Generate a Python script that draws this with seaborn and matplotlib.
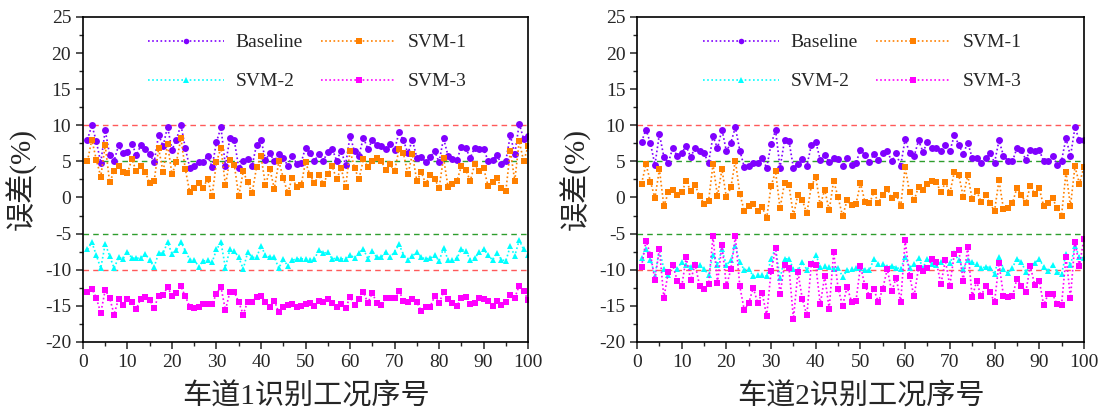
import matplotlib
matplotlib.use("Agg")
import matplotlib.pyplot as plt
import seaborn as sns
import pandas as pd
import numpy as np
from matplotlib.ticker import MultipleLocator

sns.set_style("ticks")
plt.rcParams["font.family"] = ["Liberation Serif", "Noto Sans CJK SC"]
plt.rcParams["axes.unicode_minus"] = False

# lane 1 values (x = 1..100)
base_1 = [8.0, 10.0, 7.8, 4.8, 9.3, 5.9, 5.1, 7.2, 6.1, 6.3, 7.4, 5.9, 7.2, 6.7, 6.0, 4.9, 8.7, 7.1, 9.8, 6.6,
          8.0, 10.1, 6.8, 4.1, 4.4, 4.9, 4.9, 5.8, 4.2, 7.7, 9.7, 4.4, 8.2, 7.9, 4.1, 5.1, 5.3, 4.4, 7.3, 8.0,
          5.2, 6.1, 5.0, 6.0, 5.5, 4.4, 5.8, 4.7, 4.8, 6.9, 6.1,
          5.1, 6.0, 5.1, 6.3, 6.7, 5.1, 6.5, 4.5, 8.5, 6.4, 5.8, 8.3, 6.7, 7.9, 7.3, 7.1, 6.7, 7.4, 6.6, 9.0,
          7.9, 6.1, 8.0, 5.5, 5.6, 4.9, 5.6, 6.4, 4.9, 8.2, 5.8, 5.3, 5.2, 7.0, 6.8, 5.5, 6.9, 6.7, 6.7, 5.1,
          5.2, 5.9, 4.6, 5.1, 8.6, 6.0, 10.2, 8.1, 8.5]
svm1_1 = [5.0, 8.0, 5.2, 2.9, 7.2, 2.1, 3.6, 4.3, 3.5, 3.4, 5.3, 3.6, 4.3, 3.5, 2.0, 2.3, 6.8, 3.5, 7.4, 3.2,
          4.9, 8.2, 3.9, 0.7, 1.3, 2.0, 1.3, 2.6, 0.2, 4.9, 6.9, 1.7, 5.2, 4.5, 0.2, 3.6, 2.1, 0.6, 4.2, 5.7,
          1.7, 3.9, 1.2, 5.0, 2.7, 0.6, 2.7, 1.5, 1.7, 4.9, 3.1,
          2.0, 3.1, 1.9, 3.2, 4.3, 2.5, 4.1, 1.4, 6.5, 4.1, 2.5, 5.3, 4.2, 5.0, 5.4, 5.1, 3.8, 4.6, 3.6, 6.7,
          6.1, 3.2, 6.0, 2.3, 3.5, 1.9, 3.1, 2.6, 1.3, 5.5, 1.5, 1.8, 2.3, 4.3, 3.8, 2.3, 4.6, 3.7, 4.1, 1.6,
          2.2, 2.7, 1.3, 0.9, 6.5, 2.3, 7.8, 5.0, 7.1]
svm2_1 = [-7.2, -6.2, -8.0, -9.8, -6.4, -8.1, -9.8, -8.3, -8.5, -7.5, -8.4, -8.4, -8.4, -7.8, -8.7, -9.6, -7.7,
          -7.7, -6.2, -7.8, -7.3, -6.1, -7.4, -8.6, -8.6, -9.6, -8.8, -8.7, -9.0, -7.2, -6.2, -9.7, -7.2, -7.4,
          -8.3, -9.9, -7.6, -8.3, -8.3, -6.7, -8.0, -8.3, -8.3, -9.8, -8.5, -9.5, -8.7, -8.5, -8.5, -8.5, -8.6,
          -8.5, -7.3, -7.7, -7.6, -8.5, -8.4, -8.5, -8.5, -7.9, -8.4, -7.7, -7.1, -8.5, -7.4, -8.3, -8.3, -7.5,
          -8.3, -7.5, -6.5, -7.9, -8.6, -8.1, -7.6, -8.3, -8.5, -8.4, -8.0, -8.8, -7.0, -8.6, -8.7, -8.4, -7.2,
          -7.4, -8.6, -8.4, -7.6, -7.2, -7.9, -8.7, -7.7, -8.6, -8.8, -6.7, -8.1, -5.9, -7.2, -7.9]
svm3_1 = [-13.1, -12.6, -13.9, -16.0, -12.8, -13.9, -16.2, -14.0, -14.9, -14.1, -14.4, -15.4, -14.0, -13.8,
          -14.2, -15.3, -13.6, -13.5, -12.4, -13.6, -13.2, -12.3, -13.7, -15.1, -15.3, -15.2, -14.8, -14.7,
          -14.8, -13.3, -12.4, -15.6, -13.1, -13.1, -14.5, -16.2, -14.4, -14.4, -13.8, -13.7, -14.4, -15.1,
          -14.3, -15.9, -15.1, -14.9, -14.7, -15.2, -15.0, -14.8, -14.6,
          -15.0, -14.3, -14.4, -14.0, -14.6, -15.2, -14.8, -15.3, -13.8, -14.9, -14.1, -13.1, -14.6, -13.2,
          -14.6, -14.9, -13.9, -13.9, -13.9, -12.9, -14.3, -14.5, -14.0, -14.5, -15.7, -15.1, -15.1, -13.7,
          -14.6, -13.1, -14.1, -14.6, -15.0, -13.9, -13.8, -14.8, -14.6, -13.9, -14.1, -14.3, -15.0, -14.3,
          -14.9, -14.4, -13.5, -13.9, -12.2, -13.0, -14.2]

# lane 2
base_2 = [7.7, 9.4, 7.5, 4.5, 8.8, 5.6, 4.8, 6.9, 5.7, 6.2, 7.1, 5.6, 6.9, 6.5, 6.1, 4.8, 8.5, 6.8, 9.4, 6.4,
          7.6, 9.7, 6.5, 4.2, 4.4, 4.8, 4.8, 5.5, 4.1, 7.4, 9.3, 4.1, 7.9, 7.8, 4.1, 4.7, 5.3, 4.4, 7.2, 7.7,
          5.2, 5.9, 4.9, 5.5, 5.3, 4.3, 5.4, 4.5, 4.8, 6.6, 5.9,
          4.9, 6.0, 5.2, 6.1, 6.4, 5.0, 6.1, 4.4, 8.1, 6.1, 5.7, 7.9, 6.3, 7.7, 6.9, 6.8, 6.4, 7.3, 6.4, 8.6,
          7.3, 6.0, 7.6, 5.5, 5.5, 4.8, 5.4, 6.2, 4.8, 7.9, 5.8, 5.1, 5.0, 6.8, 6.6, 5.2, 6.6, 6.5, 6.6, 5.0,
          5.0, 5.8, 4.5, 5.1, 8.2, 5.7, 9.7, 7.9, 7.9]
svm1_2 = [1.9, 4.6, 2.2, -0.1, 3.9, -1.2, 0.7, 1.1, 0.4, 0.7, 2.3, 0.9, 1.7, 0.2, -0.9, -0.5, 4.6, 0.2, 3.9,
          0.0, 1.4, 5.1, 0.5, -1.9, -1.2, -0.9, -1.9, -1.3, -2.9, 1.6, 3.6, -1.5, 2.0, 1.7, -2.5, 0.4, -0.4,
          -2.2, 1.6, 2.8, -1.1, 1.1, -1.8, 2.3, 0.0, -2.6, -0.4, -1.1, -0.9, 2.0, -0.6,
          -0.8, 0.7, -0.7, 0.3, 1.2, -0.1, 0.4, -1.2, 4.2, 0.7, -0.4, 1.5, 1.1, 1.9, 2.3, 2.1, 0.7, 2.1, 0.6,
          3.5, 3.1, 0.1, 3.1, -0.2, 0.9, -0.6, 0.3, -0.8, -1.9, 2.4, -1.6, -1.5, -0.8, 1.3, 0.4, -0.8, 1.6,
          0.5, 1.3, -1.2, -0.7, -0.1, -1.5, -2.5, 3.5, -1.2, 4.3, 1.9, 4.2]
svm2_2 = [-8.4, -7.1, -8.6, -10.8, -7.2, -9.9, -10.7, -9.4, -9.9, -8.9, -9.3, -9.6, -9.2, -9.3, -9.9, -10.7,
          -7.9, -9.3, -7.2, -9.4, -8.6, -6.7, -9.0, -10.0, -9.9, -10.9, -10.7, -10.7, -10.9, -8.5, -7.0, -11.2,
          -8.5, -8.5, -9.9, -10.1, -9.0, -10.0, -9.2, -7.9, -9.6, -9.5, -9.6, -9.9, -9.7, -11.0, -10.1, -9.9,
          -9.8, -9.7, -10.0,
          -10.1, -8.5, -9.2, -9.2, -9.6, -9.5, -9.7, -9.9, -8.2, -9.7, -9.2, -8.4, -9.7, -8.5, -9.2, -9.3, -9.0,
          -8.6, -9.1, -7.7, -8.7, -9.9, -8.7, -9.0, -9.2, -9.8, -9.6, -9.7, -10.6, -8.2, -9.9, -10.5, -9.7,
          -8.5, -8.9, -10.3, -9.5, -9.1, -8.5, -9.6, -10.2, -9.3, -10.3, -10.6, -7.8, -9.4, -6.7, -8.2, -8.4]
svm3_2 = [-9.6, -6.0, -7.9, -11.4, -7.1, -13.9, -10.3, -9.4, -11.5, -12.3, -8.3, -11.4, -9.3, -12.2, -12.7,
          -12.0, -5.4, -11.8, -6.6, -12.3, -9.9, -5.4, -12.3, -15.6, -14.6, -12.5, -14.6, -13.2, -16.4, -10.2,
          -7.0, -13.4, -9.3, -9.7, -16.8, -10.3, -14.1, -16.3, -9.2, -9.4, -14.8, -10.9, -15.4, -7.6, -12.6,
          -15.0, -12.4, -14.4, -14.3, -9.5, -12.2,
          -13.6, -12.7, -14.5, -12.6, -9.9, -13.0, -11.1, -14.5, -5.9, -10.9, -13.7, -9.7, -10.2, -9.7, -8.5,
          -9.0, -12.0, -8.7, -12.2, -7.8, -7.3, -11.5, -6.9, -13.8, -11.6, -13.7, -12.2, -13.1, -14.5, -9.1,
          -13.6, -13.8, -13.7, -11.3, -12.2, -13.1, -9.5, -12.1, -11.5, -14.9, -13.4, -13.4, -14.8, -14.9,
          -8.2, -13.9, -6.1, -9.5, -5.7]

series_names = ["Baseline", "SVM-1", "SVM-2", "SVM-3"]
colors = ["#8000ff", "#ff8000", "#00ffff", "#ff00ff"]
markers = ["o", "s", "^", "s"]
xlabels = ["车道1识别工况序号", "车道2识别工况序号"]

lanes = [[base_1, svm1_1, svm2_1, svm3_1], [base_2, svm1_2, svm2_2, svm3_2]]

fig = plt.figure(figsize=(11.06, 4.12), dpi=100)
ax_pos = [[0.075, 0.170, 0.4025, 0.789], [0.576, 0.170, 0.404, 0.789]]

for k, lane in enumerate(lanes):
    ax = fig.add_axes(ax_pos[k])
    for name, vals, c, m in zip(series_names, lane, colors, markers):
        df = pd.DataFrame({"idx": np.arange(1, len(vals) + 1), "err": vals})
        sns.lineplot(data=df, x="idx", y="err", ax=ax, color=c, marker=m, markersize=5,
                     markeredgewidth=0, linestyle=(0, (1, 1.5)), linewidth=1.2, label=name)
    for yv, col in [(10, "#ff5a5a"), (-10, "#ff5a5a"), (5, "#2e9e2e"), (-5, "#2e9e2e")]:
        ax.axhline(yv, color=col, linestyle=(0, (4, 3)), linewidth=1.0, zorder=1)

    ax.set_xlim(0, 100)
    ax.set_ylim(-20, 25)
    ax.xaxis.set_major_locator(MultipleLocator(10))
    ax.xaxis.set_minor_locator(MultipleLocator(5))
    ax.yaxis.set_major_locator(MultipleLocator(5))
    ax.yaxis.set_minor_locator(MultipleLocator(2.5))
    ax.tick_params(which="major", direction="out", length=5, width=1.1, labelsize=14,
                   top=False, right=False)
    ax.tick_params(which="minor", direction="out", length=3, width=1.0, top=False, right=False)
    for sp in ax.spines.values():
        sp.set_linewidth(1.2)
        sp.set_color("black")
    ax.set_xlabel(xlabels[k], fontsize=21, labelpad=9)
    ax.set_ylabel("误差(%)", fontsize=21, labelpad=6)

    # legend filled row by row: Baseline, SVM-1 / SVM-2, SVM-3
    h, l = ax.get_legend_handles_labels()
    order = [0, 2, 1, 3]
    ax.legend([h[i] for i in order], [l[i] for i in order], ncol=2, frameon=False,
              loc="upper center", bbox_to_anchor=(0.505, 0.99),
              fontsize=14, handlelength=3.9, handletextpad=0.6, columnspacing=0.9,
              labelspacing=1.1, markerscale=0.8, borderaxespad=0.3)

fig.savefig("out.png", dpi=100)
plt.close(fig)
